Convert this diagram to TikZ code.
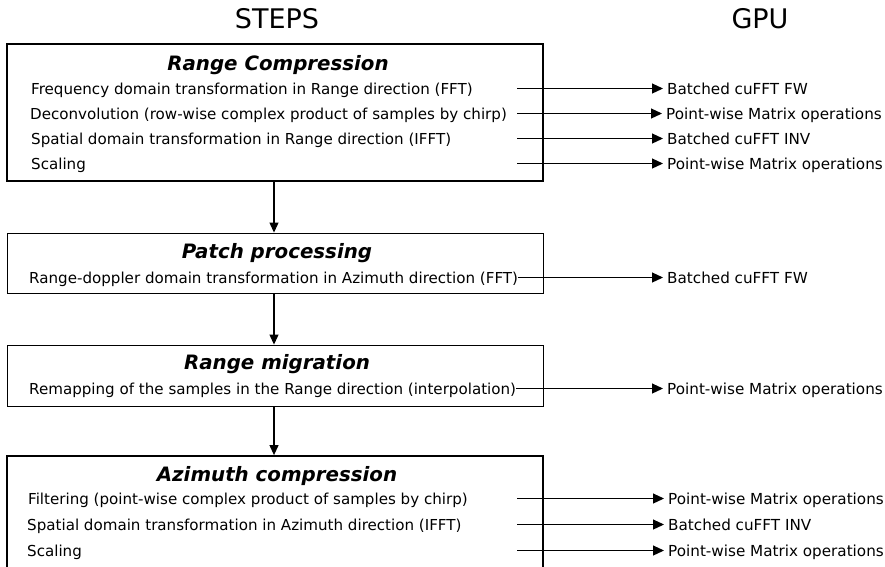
\documentclass[tikz,border=0pt]{standalone}
\usepackage{fontspec}
\setmainfont{DejaVu Sans}
\usetikzlibrary{arrows.meta}
\begin{document}
\begin{tikzpicture}[x=1pt,y=-1pt,
  thickbox/.style={draw,line width=1.8pt,inner sep=0pt},
  thinbox/.style={draw,line width=0.9pt,inner sep=0pt},
  heading/.style={font=\fontsize{27}{30}\selectfont,anchor=base,inner sep=0pt},
  steptitle/.style={font=\fontsize{19.8}{22}\selectfont\bfseries\itshape,anchor=base,inner sep=0pt},
  stepline/.style={font=\fontsize{15.1}{17}\selectfont,anchor=base west,inner sep=0pt},
  gpulabel/.style={font=\fontsize{15.2}{17}\selectfont,anchor=base west,inner xsep=4pt,inner ysep=0pt},
  conn/.style={line width=1.1pt,-{Triangle[length=11pt,width=10pt]}},
  flow/.style={line width=1.1pt,-{Triangle[length=10pt,width=9pt]}}]
\useasboundingbox (0,0) rectangle (885,566);
\fill[white] (0,0) rectangle (885,566);

\node[heading] (steps) at (277,28) {STEPS};
\node[heading] (gpu) at (760,28) {GPU};

% boxes
\node[thickbox,minimum width=536pt,minimum height=137pt] (b1) at (275,112.5) {};
\node[thinbox,minimum width=536pt,minimum height=60pt] (b2) at (275,263) {};
\node[thinbox,minimum width=536pt,minimum height=61pt] (b3) at (275,375.5) {};
\node[thickbox,minimum width=536pt,minimum height=180pt] (b4) at (275,546) {};

% titles
\node[steptitle] (t1) at (278,70) {Range Compression};
\node[steptitle] (t2) at (277,258) {Patch processing};
\node[steptitle] (t3) at (277,369) {Range migration};
\node[steptitle] (t4) at (277,481) {Azimuth compression};

% step lines
\node[stepline] (l1) at (31,94) {Frequency domain transformation in Range direction (FFT)};
\node[stepline] (l2) at (30,119) {Deconvolution (row-wise complex product of samples by chirp)};
\node[stepline] (l3) at (31,144) {Spatial domain transformation in Range direction (IFFT)};
\node[stepline] (l4) at (31,169) {Scaling};
\node[stepline] (l5) at (29,283) {Range-doppler domain transformation in Azimuth direction (FFT)};
\node[stepline] (l6) at (29,394) {Remapping of the samples in the Range direction (interpolation)};
\node[stepline] (l7) at (28,504) {Filtering (point-wise complex product of samples by chirp)};
\node[stepline] (l8) at (27,530) {Spatial domain transformation in Azimuth direction (IFFT)};
\node[stepline] (l9) at (27,556) {Scaling};

% gpu labels
\node[gpulabel] (g1) at (663,94) {Batched cuFFT FW};
\node[gpulabel] (g2) at (662,119) {Point-wise Matrix operations};
\node[gpulabel] (g3) at (663,144) {Batched cuFFT INV};
\node[gpulabel] (g4) at (663,169) {Point-wise Matrix operations};
\node[gpulabel] (g5) at (663,283) {Batched cuFFT FW};
\node[gpulabel] (g6) at (663,394) {Point-wise Matrix operations};
\node[gpulabel] (g7) at (664,504) {Point-wise Matrix operations};
\node[gpulabel] (g8) at (664,530) {Batched cuFFT INV};
\node[gpulabel] (g9) at (664,556) {Point-wise Matrix operations};

% arrow starts
\coordinate (s1) at (517,88.5);
\coordinate (s2) at (517,113.5);
\coordinate (s3) at (517,138.5);
\coordinate (s4) at (517,163.5);
\coordinate (s5) at (l5.east |- 0,277.5);
\coordinate (s6) at (l6.east |- 0,388.5);
\coordinate (s7) at (517,498.5);
\coordinate (s8) at (517,524.5);
\coordinate (s9) at (517,550.5);

\foreach \i in {1,...,9}{
  \draw[conn] (s\i) -- (s\i -| g\i.west);
}

% flow arrows
\draw[flow] (b1.south -| 274,0) -- (b2.north -| 274,0);
\draw[flow] (b2.south -| 274,0) -- (b3.north -| 274,0);
\draw[flow] (b3.south -| 274,0) -- (b4.north -| 274,0);
\end{tikzpicture}
\end{document}
